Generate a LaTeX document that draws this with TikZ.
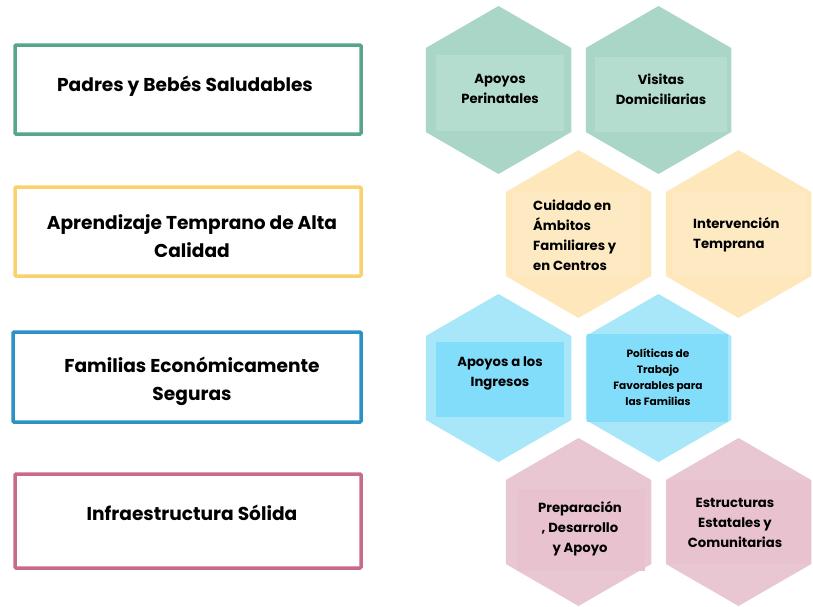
\documentclass[tikz,border=0pt]{standalone}
\usepackage{fontspec}
\setmainfont{Poppins}
\usepackage{xcolor}
\usetikzlibrary{shapes.geometric}
\usetikzlibrary{positioning}

\definecolor{verde}{HTML}{58A688}
\definecolor{verdehex}{HTML}{A9D6C6}
\definecolor{verdecaja}{HTML}{B5DDCF}
\definecolor{amarillo}{HTML}{F9D26E}
\definecolor{amarillohex}{HTML}{FDE7BB}
\definecolor{amarillocaja}{HTML}{FDEAC3}
\definecolor{azul}{HTML}{2A93C4}
\definecolor{azulhex}{HTML}{A8E6FA}
\definecolor{azulcaja}{HTML}{82DDFA}
\definecolor{rosa}{HTML}{C86A8A}
\definecolor{rosahex}{HTML}{E8C6D2}
\definecolor{rosacaja}{HTML}{E9C2CF}

\tikzset{
  pilar/.style={draw, rectangle, line width=3.5pt, fill=white, minimum width=346pt, minimum height=89pt, rounded corners=1pt},
  etiqueta/.style={font=\bfseries\fontsize{18.6}{28}\selectfont, align=center, inner sep=0pt},
  hexa/.style={regular polygon, regular polygon sides=6, shape border rotate=30, minimum size=168pt, inner sep=0pt},
  caja/.style={rectangle, inner sep=0pt},
  hextexto/.style={font=\bfseries\fontsize{13.2}{20}\selectfont, align=center, inner sep=0pt},
}

\begin{document}
\begin{tikzpicture}[x=1pt, y=-1pt]
            \useasboundingbox (0,0) rectangle (813,606);
            % Pilares a la izquierda
            \node[pilar, draw=verde] (padres) at (188,89.5) {};
            \node[pilar, draw=amarillo] (aprendizaje) at (188,231.5) {};
            \node[pilar, draw=azul, minimum width=348pt, minimum height=90pt] (familias) at (187,377) {};
            \node[pilar, draw=rosa, minimum height=94pt] (infra) at (188,521) {};

            \node[etiqueta] (padrest) at (185,86) {Padres y Bebés Saludables};
            \node[etiqueta] (aprendizajet) at (192,236) {Aprendizaje Temprano de Alta\\Calidad};
            \node[etiqueta] (familiast) at (192,381) {Familias Económicamente\\Seguras};
            \node[etiqueta] (infrat) at (192,513) {Infraestructura Sólida};

            % Panal de hexagonos
            \node[hexa, fill=verdehex] (perinatales) at (498.5,90) {};
            \node[hexa, fill=verdehex] (visitas) at (658.5,90) {};
            \node[hexa, fill=amarillohex] (cuidado) at (578.5,234) {};
            \node[hexa, fill=amarillohex] (intervencion) at (738.5,234) {};
            \node[hexa, fill=azulhex] (ingresos) at (498.5,378) {};
            \node[hexa, fill=azulhex] (politicas) at (658.5,378) {};
            \node[hexa, fill=rosahex] (preparacion) at (578.5,522) {};
            \node[hexa, fill=rosahex] (estructuras) at (738.5,522) {};

            \node[caja, fill=verdecaja, minimum width=128pt, minimum height=76pt] (perinatalesc) at (500,93) {};
            \node[caja, fill=verdecaja, minimum width=132pt, minimum height=75pt] (visitasc) at (661,94.5) {};
            \node[caja, fill=amarillocaja, minimum width=128pt, minimum height=84pt] (cuidadoc) at (576,234) {};
            \node[caja, fill=amarillocaja, minimum width=134pt, minimum height=84pt] (intervencionc) at (738.5,234) {};
            \node[caja, fill=azulcaja, minimum width=128pt, minimum height=75pt] (ingresosc) at (500,379.5) {};
            \node[caja, fill=azulcaja, minimum width=141pt, minimum height=88pt] (politicasc) at (657.5,378) {};
            \node[caja, fill=rosacaja, minimum width=128pt, minimum height=82pt] (preparacionc) at (581,530) {};
            \node[caja, fill=rosacaja, minimum width=144pt, minimum height=84pt] (estructurasc) at (738.5,522) {};

            \node[hextexto] (perinatalest) at (500,89) {Apoyos\\Perinatales};
            \node[hextexto] (visitast) at (661,89) {Visitas\\Domiciliarias};
            \node[hextexto, align=left, anchor=west] (cuidadot) at (533,235) {Cuidado en\\Ámbitos\\Familiares y\\en Centros};
            \node[hextexto, align=left, anchor=west] (intervenciont) at (693,235) {Intervención\\Temprana};
            \node[hextexto] (ingresost) at (500,373) {Apoyos a los\\Ingresos};
            \node[hextexto, font=\bfseries\fontsize{10.6}{16}\selectfont] (politicast) at (658,377) {Políticas de\\Trabajo\\Favorables para\\las Familias};
            \node[hextexto] (preparaciont) at (580,529) {Preparación\\, Desarrollo\\y Apoyo};
            \node[hextexto] (estructurast) at (735,523) {Estructuras\\Estatales y\\Comunitarias};
        \end{tikzpicture}
\end{document}
